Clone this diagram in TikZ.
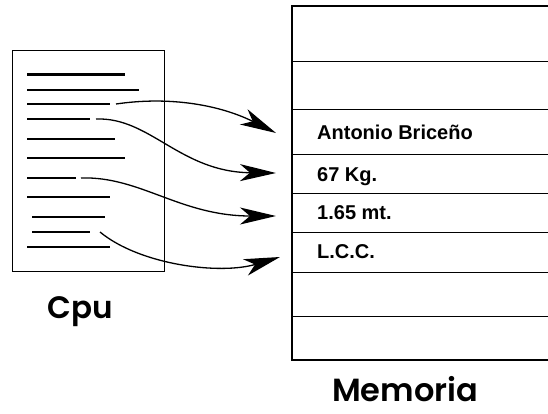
\documentclass[tikz,border=0pt]{standalone}
\usepackage{fontspec}
\setmainfont{Liberation Sans}
\newfontfamily\popfont{Poppins SemiBold}
\usetikzlibrary{arrows.meta}
\begin{document}
\begin{tikzpicture}[x=1pt,y=-1pt,
  txtline/.style={line width=2.6pt},
  slot/.style={line width=0.9pt},
  frame/.style={line width=1.4pt},
  memtext/.style={anchor=base west,inner sep=0pt,font=\fontsize{20}{24}\selectfont\bfseries},
  biglabel/.style={anchor=base,inner sep=0pt},
  conn/.style={line width=1.3pt,-{Stealth[length=36pt,width=17pt,inset=10pt]}}]
\useasboundingbox (0,0) rectangle (548,413);
% CPU page
\node[frame,draw,minimum width=152pt,minimum height=221pt,inner sep=0pt,anchor=north west] (cpu) at (12,50) {};
\draw[txtline] (27,74.7) -- (125,74.7);
\draw[txtline] (27,90) -- (139,90);
\draw[txtline] (27,104) -- (110,104) coordinate (l3);
\draw[txtline] (27,119) -- (90,119) coordinate (l4);
\draw[txtline] (27,139) -- (115,139);
\draw[txtline] (27,158) -- (125,158);
\draw[txtline] (27,178) -- (76,178) coordinate (l7);
\draw[txtline] (27,197) -- (110,197);
\draw[txtline] (32,217) -- (105,217);
\draw[txtline] (32,232) -- (90,232) coordinate (l10);
\draw[txtline] (27,247) -- (110,247);
\node[biglabel,font=\fontsize{31}{36}\selectfont\popfont] (cpulabel) at (80,318) {Cpu};
% Memory
\draw[frame] (549,6) -- (292,6) -- (292,360) -- (549,360);
\foreach \yy in {61,109,154,193,232,272,316} \draw[slot] (292,\yy) -- (549,\yy);
\node[memtext] (m1) at (317,139) {Antonio Briceño};
\node[memtext] (m2) at (317,181) {67 Kg.};
\node[memtext] (m3) at (317,219) {1.65 mt.};
\node[memtext] (m4) at (317,258) {L.C.C.};
\node[biglabel,font=\fontsize{32}{36}\selectfont\popfont] (memlabel) at (405,401) {Memoria};
% arrow ends
\coordinate (t1) at (276,133);
\coordinate (t2) at (276,173);
\coordinate (t3) at (276,216);
\coordinate (t4) at (280,257);
\coordinate (s1) at (116,104);
\coordinate (s2) at (96,119);
\coordinate (s3) at (81,178);
\coordinate (s4) at (100,232);
\draw[conn] (s1) .. controls (170,96) and (220,105) .. (t1);
\draw[conn] (s2) .. controls (150,117) and (180,172) .. (t2);
\draw[conn] (s3) .. controls (140,176) and (180,216) .. (t3);
\draw[conn] (s4) .. controls (140,265) and (220,275) .. (t4);
\end{tikzpicture}
\end{document}
